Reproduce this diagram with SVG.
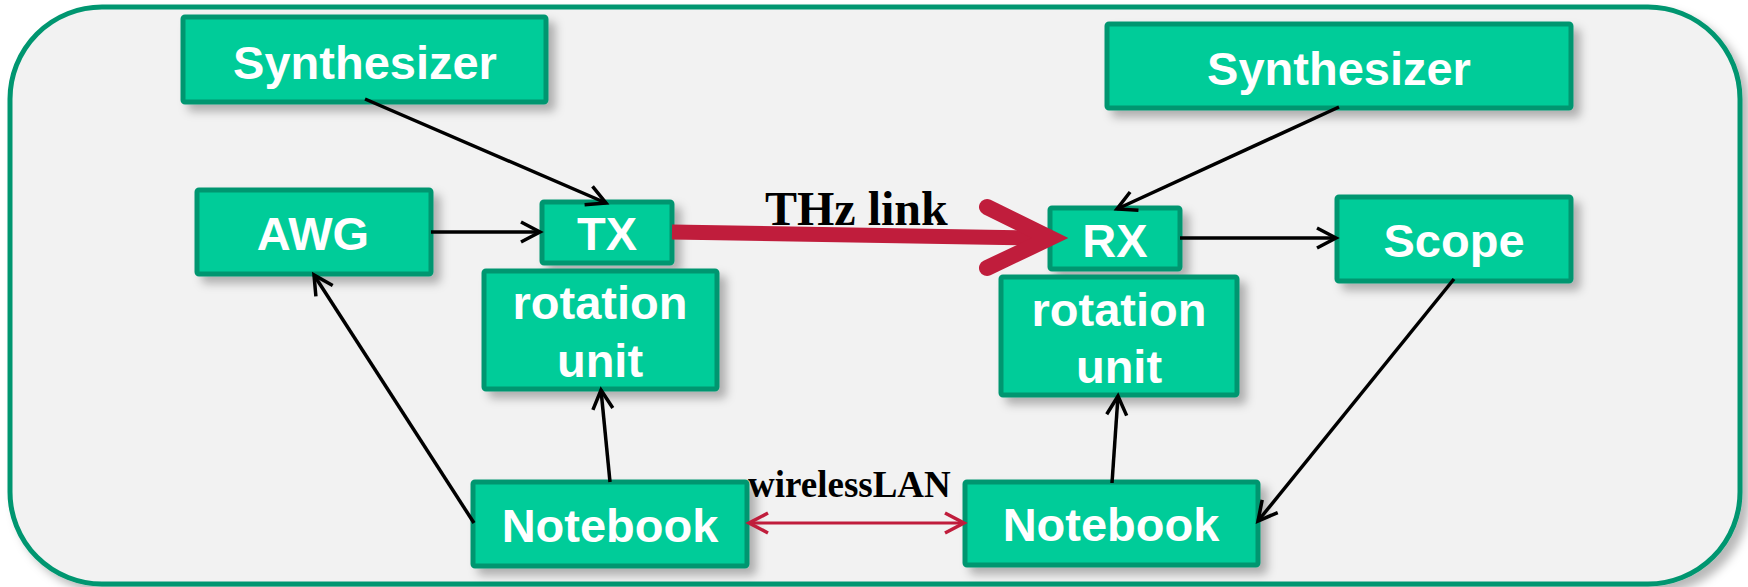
<svg xmlns="http://www.w3.org/2000/svg" width="1748" height="587" viewBox="0 0 1748 587">
<style>
.box{fill:#00CC99;stroke:#009670;stroke-width:5;filter:url(#sh)}
.lbl{font-family:"Liberation Sans",Arial,sans-serif;font-weight:bold;font-size:47px;fill:#fff;text-anchor:middle}
.con{stroke:#000;stroke-width:3.5;fill:none;marker-end:url(#ah)}
.cap{font-family:"Liberation Serif","Times New Roman",serif;font-weight:bold;fill:#000}
</style>
<defs>
<filter id="sh" x="-20%" y="-20%" width="150%" height="160%">
<feDropShadow dx="7" dy="7" stdDeviation="5" flood-color="#000" flood-opacity="0.28"/>
</filter>
<marker id="ah" markerUnits="userSpaceOnUse" markerWidth="40" markerHeight="40" viewBox="-30 -20 40 40" refX="0" refY="0" orient="auto">
<path d="M-19,-10 L0,0 L-19,10" fill="none" stroke="#000" stroke-width="3.5"/>
</marker>
<marker id="rh" markerUnits="userSpaceOnUse" markerWidth="40" markerHeight="40" viewBox="-30 -20 40 40" refX="0" refY="0" orient="auto-start-reverse">
<path d="M-19,-10 L0,0 L-19,10" fill="none" stroke="#C01D3C" stroke-width="3.5"/>
</marker>
</defs>
<rect x="10" y="7" width="1730" height="577" rx="92" ry="92" fill="#F2F2F2" stroke="#009670" stroke-width="5" filter="url(#sh)"/>
<g id="synth-left"><rect class="box" x="183" y="17" width="363" height="85" rx="2"/><text class="lbl" x="365" y="79">Synthesizer</text></g>
<g id="synth-right"><rect class="box" x="1107" y="24" width="464" height="84" rx="2"/><text class="lbl" x="1339" y="85">Synthesizer</text></g>
<g id="awg"><rect class="box" x="197" y="190" width="234" height="84" rx="2"/><text class="lbl" x="313" y="250">AWG</text></g>
<g id="tx"><rect class="box" x="542" y="202" width="130" height="61" rx="2"/><text class="lbl" x="607" y="250">TX</text></g>
<g id="rx"><rect class="box" x="1050" y="208" width="130" height="61" rx="2"/><text class="lbl" x="1115" y="257">RX</text></g>
<g id="scope"><rect class="box" x="1337" y="197" width="234" height="84" rx="2"/><text class="lbl" x="1454" y="257">Scope</text></g>
<g id="rot-left"><rect class="box" x="484" y="271" width="233" height="118" rx="2"/><text class="lbl" x="600" y="319">rotation</text><text class="lbl" x="600" y="377">unit</text></g>
<g id="rot-right"><rect class="box" x="1001" y="277" width="236" height="118" rx="2"/><text class="lbl" x="1119" y="326">rotation</text><text class="lbl" x="1119" y="383">unit</text></g>
<g id="nb-left"><rect class="box" x="473" y="482" width="274" height="84" rx="2"/><text class="lbl" x="610" y="542">Notebook</text></g>
<g id="nb-right"><rect class="box" x="965" y="482" width="293" height="83" rx="2"/><text class="lbl" x="1111" y="541">Notebook</text></g>
<g id="connectors">
<line class="con" x1="365" y1="99" x2="606" y2="203"/>
<line class="con" x1="431" y1="232" x2="540" y2="232"/>
<line class="con" x1="474" y1="523" x2="314" y2="275"/>
<line class="con" x1="610" y1="482" x2="601" y2="390"/>
<line class="con" x1="1339" y1="107" x2="1117" y2="209"/>
<line class="con" x1="1180" y1="238" x2="1336" y2="238"/>
<line class="con" x1="1112" y1="483" x2="1118" y2="396"/>
<line class="con" x1="1454" y1="279" x2="1258" y2="521"/>
<path d="M672,232 L1040,238" fill="none" stroke="#C01D3C" stroke-width="15"/>
<path d="M987,207 L1050,238 L987,268" fill="none" stroke="#C01D3C" stroke-width="16" stroke-linecap="round" stroke-linejoin="miter"/>
<line x1="749" y1="523" x2="964" y2="523" stroke="#C01D3C" stroke-width="3" marker-start="url(#rh)" marker-end="url(#rh)"/>
<text class="cap" x="765" y="225" font-size="48">THz link</text>
<text class="cap" x="748" y="497" font-size="37">wirelessLAN</text>
</g>
</svg>
